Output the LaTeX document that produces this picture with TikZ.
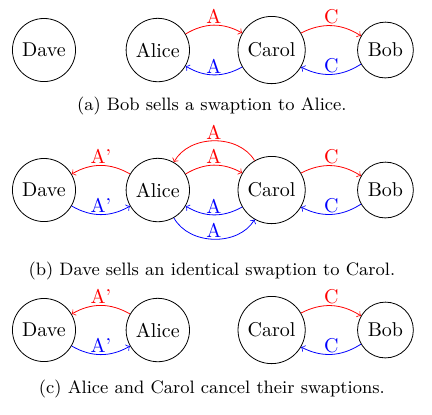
\documentclass[tikz,border=0pt]{standalone}

\begin{document}
\begin{tikzpicture}[>=to,every node/.style={font=\normalsize}]
  \tikzset{party/.style={circle,draw,black},
           lbl/.style={above,inner sep=0.6pt},
           captext/.style={anchor=base,font=\small}}
  \useasboundingbox (-0.773,0.879) rectangle (6.818,-6.397);
  % (a)
  \node[party] (dave1) at (0,0) {Dave};
  \node[party] (alice1) at (2,0) {Alice};
  \node[party] (carol1) at (4,0) {Carol};
  \node[party] (bob1) at (6,0) {Bob};
  \draw[->,red] (alice1) to[bend left] node[lbl] {A} (carol1);
  \draw[->,blue] (carol1) to[bend left] node[lbl] {A} (alice1);
  \draw[->,red] (carol1) to[bend left] node[lbl] {C} (bob1);
  \draw[->,blue] (bob1) to[bend left] node[lbl] {C} (carol1);
  \node[captext] (capa) at (2.95,-1.06) {(a) Bob sells a swaption to Alice.};
  % (b)
  \node[party] (dave2) at (0,-2.46) {Dave};
  \node[party] (alice2) at (2,-2.46) {Alice};
  \node[party] (carol2) at (4,-2.46) {Carol};
  \node[party] (bob2) at (6,-2.46) {Bob};
  \draw[->,red] (alice2) to[bend right] node[lbl] {A'} (dave2);
  \draw[->,blue] (dave2) to[bend right] node[lbl] {A'} (alice2);
  \draw[->,red] (carol2) to[bend right=60] node[lbl] {A} (alice2);
  \draw[->,red] (alice2) to[bend left] node[lbl] {A} (carol2);
  \draw[->,blue] (carol2) to[bend left] node[lbl] {A} (alice2);
  \draw[->,blue] (alice2) to[bend right=60] node[lbl] {A} (carol2);
  \draw[->,red] (carol2) to[bend left] node[lbl] {C} (bob2);
  \draw[->,blue] (bob2) to[bend left] node[lbl] {C} (carol2);
  \node[captext] (capb) at (2.95,-3.96) {(b) Dave sells an identical swaption to Carol.};
  % (c)
  \node[party] (dave3) at (0,-4.92) {Dave};
  \node[party] (alice3) at (2,-4.92) {Alice};
  \node[party] (carol3) at (4,-4.92) {Carol};
  \node[party] (bob3) at (6,-4.92) {Bob};
  \draw[->,red] (alice3) to[bend right] node[lbl] {A'} (dave3);
  \draw[->,blue] (dave3) to[bend right] node[lbl] {A'} (alice3);
  \draw[->,red] (carol3) to[bend left] node[lbl] {C} (bob3);
  \draw[->,blue] (bob3) to[bend left] node[lbl] {C} (carol3);
  \node[captext] (capc) at (2.95,-6.04) {(c) Alice and Carol cancel their swaptions.};
\end{tikzpicture}
\end{document}
